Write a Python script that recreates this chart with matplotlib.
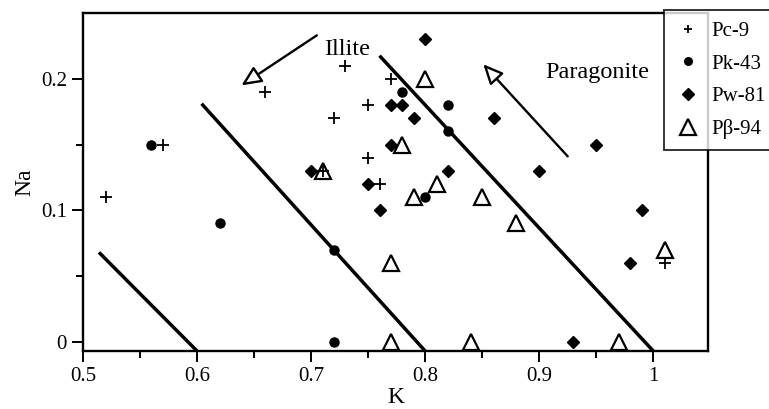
import matplotlib
matplotlib.use("Agg")
import matplotlib.pyplot as plt
from matplotlib.lines import Line2D

plt.rcParams['font.family'] = ['Liberation Serif', 'DejaVu Serif']

# Data: (K, Na)
pc9_k  = [0.52, 0.57, 0.66, 0.71, 0.72, 0.73, 0.75, 0.75, 0.76, 0.77, 1.01]
pc9_na = [0.11, 0.15, 0.19, 0.13, 0.17, 0.21, 0.18, 0.14, 0.12, 0.20, 0.06]

pk43_k  = [0.56, 0.62, 0.72, 0.72, 0.78, 0.80, 0.82, 0.82]
pk43_na = [0.15, 0.09, 0.07, 0.00, 0.19, 0.11, 0.18, 0.16]

pw81_k  = [0.70, 0.75, 0.76, 0.77, 0.78, 0.79, 0.77, 0.80, 0.82, 0.86, 0.90, 0.95, 0.99, 0.98, 0.93]
pw81_na = [0.13, 0.12, 0.10, 0.18, 0.18, 0.17, 0.15, 0.23, 0.13, 0.17, 0.13, 0.15, 0.10, 0.06, 0.00]

pb94_k  = [0.71, 0.77, 0.77, 0.78, 0.79, 0.80, 0.81, 0.84, 0.85, 0.88, 0.97, 1.01]
pb94_na = [0.13, 0.06, 0.00, 0.15, 0.11, 0.20, 0.12, 0.00, 0.11, 0.09, 0.00, 0.07]

# Boundary lines (K endpoints, Na endpoints)
line_k  = [[0.514, 0.600], [0.604, 0.800], [0.760, 1.000]]
line_na = [[0.068, -0.007], [0.181, -0.007], [0.2175, -0.007]]

labels = ['Pc-9', 'Pk-43', 'Pw-81', 'P\u03b2-94']
xticks = [0.5, 0.6, 0.7, 0.8, 0.9, 1.0]
xticklabels = ['0.5', '0.6', '0.7', '0.8', '0.9', '1']
yticks = [0.0, 0.1, 0.2]
yticklabels = ['0', '0.1', '0.2']

fig = plt.figure(figsize=(7.69, 4.09), dpi=100)
ax = fig.add_axes([83/769, 1 - 351/409, (708-83)/769, (351-13)/409])

for lk, ln in zip(line_k, line_na):
    ax.plot(lk, ln, color='black', lw=2.5, solid_capstyle='butt', zorder=2)

ax.plot(pc9_k, pc9_na, ls='none', marker='+', ms=8.5, mew=1.3, color='black', zorder=3)
ax.plot(pk43_k, pk43_na, ls='none', marker='o', ms=6.5, color='black', zorder=3)
ax.plot(pw81_k, pw81_na, ls='none', marker='D', ms=6, color='black', zorder=3)
ax.plot(pb94_k, pb94_na, ls='none', marker='^', ms=11.5, mfc='none', mec='black', mew=1.6, zorder=3)

ax.set_xlim(0.5, 1.048)
ax.set_ylim(-0.007, 0.25)

ax.set_xticks(xticks)
ax.set_xticklabels(xticklabels)
ax.set_xticks([0.55, 0.65, 0.75, 0.85, 0.95], minor=True)
ax.set_yticks(yticks)
ax.set_yticklabels(yticklabels)
ax.set_yticks([0.05, 0.15], minor=True)
ax.tick_params(axis='both', which='major', direction='out', length=8, width=1.4, labelsize=15)
ax.tick_params(axis='both', which='minor', direction='out', length=5, width=1.4)
for s in ax.spines.values():
    s.set_linewidth(1.7)

ax.set_xlabel('K', fontsize=17, labelpad=1)
ax.set_ylabel('Na', fontsize=17, labelpad=4)

# Annotations
ax.text(0.732, 0.222, 'Illite', fontsize=17.5, ha='center', va='center')
ax.text(0.951, 0.205, 'Paragonite', fontsize=17.5, ha='center', va='center')
ap = dict(arrowstyle='-|>,head_length=1.2,head_width=0.55', fc='white', ec='black', lw=1.7,
          shrinkA=0, shrinkB=0)
ax.annotate('', xy=(0.639, 0.195), xytext=(0.705, 0.233), arrowprops=ap)
ax.annotate('', xy=(0.851, 0.211), xytext=(0.925, 0.141), arrowprops=ap)

handles = [
    Line2D([], [], ls='none', marker='+', ms=6, mew=1.3, color='black'),
    Line2D([], [], ls='none', marker='o', ms=5.5, color='black'),
    Line2D([], [], ls='none', marker='D', ms=6, color='black'),
    Line2D([], [], ls='none', marker='^', ms=12, mfc='none', mec='black', mew=1.6),
]
leg = fig.legend(handles, labels, loc='upper left', bbox_to_anchor=(664/769, 1 - 10/409),
                 fontsize=15, frameon=True, fancybox=False, edgecolor='black',
                 handlelength=1.2, handletextpad=0.5, labelspacing=0.62,
                 borderpad=0.55, borderaxespad=0)
leg.get_frame().set_linewidth(1.4)
leg.set_zorder(5)

fig.savefig('out.png', dpi=100)
